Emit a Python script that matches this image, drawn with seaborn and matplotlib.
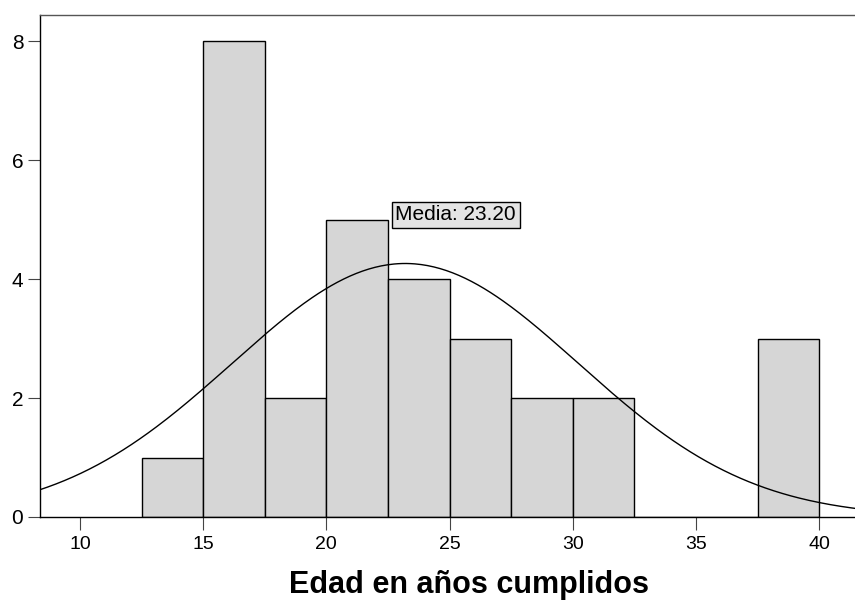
import numpy as np
import pandas as pd
import matplotlib
matplotlib.use("Agg")
import matplotlib.pyplot as plt
import seaborn as sns

# ── Data ──────────────────────────────────────────────────────────────────────
bin_edges = [12.5, 15.0, 17.5, 20.0, 22.5, 25.0, 27.5, 30.0, 32.5, 35.0, 37.5, 40.0]
counts    = [1, 8, 2, 5, 4, 3, 2, 2, 0, 0, 3]
mean_age  = 23.20
sd_age    = 7.02
x_ticks   = [10, 15, 20, 25, 30, 35, 40]
y_ticks   = [0, 2, 4, 6, 8]
x_label   = "Edad en años cumplidos"

# ── Style ─────────────────────────────────────────────────────────────────────
sns.set_theme(style="white")
plt.rcParams["font.family"] = ["Liberation Sans", "DejaVu Sans"]
plt.rcParams["text.color"] = "black"
plt.rcParams["xtick.color"] = "black"
plt.rcParams["ytick.color"] = "black"

centers = [(a + b) / 2 for a, b in zip(bin_edges[:-1], bin_edges[1:])]
df = pd.DataFrame({"edad": centers, "n": counts})

fig = plt.figure(figsize=(8.55, 6.02), dpi=100)
ax = fig.add_axes([40 / 855, 1 - 517 / 602, 1 - 40 / 855 + 0.01, (517 - 15) / 602])

sns.histplot(data=df, x="edad", weights="n", bins=bin_edges, ax=ax,
             color="#d6d6d6", edgecolor="black", linewidth=1.0, alpha=1.0)

# fitted normal curve (scaled to counts)
n_tot = sum(counts)
bw = bin_edges[1] - bin_edges[0]
xs = np.linspace(8.0, 42.0, 400)
ys = n_tot * bw * np.exp(-0.5 * ((xs - mean_age) / sd_age) ** 2) / (sd_age * np.sqrt(2 * np.pi))
sns.lineplot(x=xs, y=ys, ax=ax, color="black", linewidth=1.0)

ax.text(22.8, 4.92, f"Media: {mean_age:.2f}", fontsize=15, color="black",
        ha="left", va="bottom",
        bbox=dict(boxstyle="square,pad=0.18", facecolor="#e4e4e4",
                  edgecolor="black", linewidth=1.0))

ax.set_xlim(8.38, 41.8)
ax.set_ylim(0, 8.44)
ax.set_xticks(x_ticks)
ax.set_yticks(y_ticks)
ax.tick_params(axis="both", direction="out", length=9, width=0.8,
               color="#444444", labelcolor="black", labelsize=14, pad=5,
               bottom=True, left=True)
ax.tick_params(axis="y", labelsize=15, pad=3)

ax.set_ylabel("")
ax.set_xlabel(x_label, fontsize=22, fontweight="bold", color="black")
ax.xaxis.set_label_coords(0.521, -0.105)

for side in ["left", "bottom"]:
    ax.spines[side].set_color("black")
    ax.spines[side].set_linewidth(1.0)
ax.spines["top"].set_color("#555555")
ax.spines["top"].set_linewidth(1.0)
ax.spines["right"].set_visible(False)

plt.savefig("out.png", dpi=100)
